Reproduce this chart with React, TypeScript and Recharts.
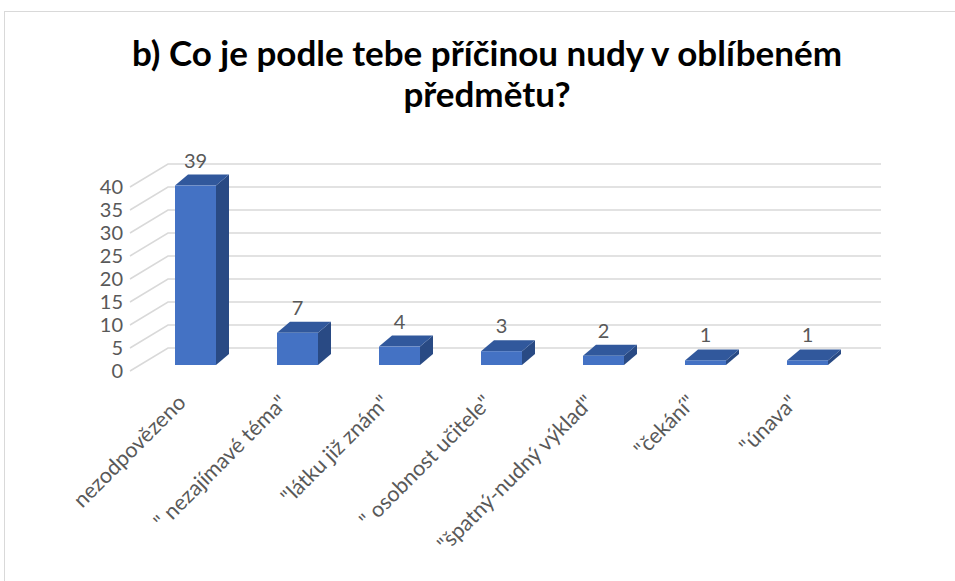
import React from "react";
import { BarChart, Bar, XAxis, YAxis, CartesianGrid, LabelList } from "recharts";

const categories = [
  "nezodpovězeno",
  "\" nezajímavé téma\"",
  "\"látku již znám\"",
  "\" osobnost učitele\"",
  "\"špatný-nudný výklad\"",
  "\"čekání\"",
  "\"únava\"",
];
const counts = [39, 7, 4, 3, 2, 1, 1];
const yTicks = [0, 5, 10, 15, 20, 25, 30, 35, 40];

const chartData = categories.map((name, i) => ({ name, value: counts[i] }));

const W = 955;
const H = 581;
const PLOT_LEFT = 144;
const PLOT_RIGHT = 858;
const PLOT_TOP = 181;
const PLOT_BOTTOM = 365;
const Y_AXIS_W = 40;
const X_AXIS_H = 30;

const FONT = "Lato, 'Open Sans', sans-serif";
const TEXT = "#595959";
const GRID = "#d9d9d9";

const FRONT = "#4472C4";
const TOP = "#31589C";
const SIDE = "#294A84";
const DX = 13;
const DY = 11;

const Box3D = (props: any) => {
  const { x, y, width, height } = props;
  if (width == null || height == null) return null;
  const r = x + width;
  const b = y + height;
  return (
    <g>
      <path
        d={`M${r},${y} L${r + DX},${y - DY} L${r + DX},${b - DY} L${r},${b} Z`}
        fill={SIDE}
      />
      <path
        d={`M${x},${y} L${x + DX},${y - DY} L${r + DX},${y - DY} L${r},${y} Z`}
        fill={TOP}
      />
      <rect x={x} y={y} width={width} height={height} fill={FRONT} />
    </g>
  );
};

const gridLine = (props: any) => {
  const { x1, x2, y1, key } = props;
  const y = y1;
  return (
    <path
      key={key}
      d={`M${x1 - 14},${y + 6} L${x1 + 24},${y - 17} L${x2 + 23},${y - 17}`}
      stroke={GRID}
      strokeWidth={1.5}
      fill="none"
    />
  );
};

const YTick = (props: any) => {
  const { y, payload } = props;
  return (
    <text
      x={PLOT_LEFT - 21}
      y={y + 6}
      dy="0.36em"
      textAnchor="end"
      fill={TEXT}
      fontSize={20}
      fontFamily={FONT}
    >
      {payload.value}
    </text>
  );
};

const XTick = (props: any) => {
  const { x, payload } = props;
  const ax = x - 8;
  const ay = PLOT_BOTTOM + 39;
  return (
    <text
      x={ax}
      y={ay}
      transform={`rotate(-45 ${ax} ${ay})`}
      textAnchor="end"
      fill={TEXT}
      fontSize={21.5}
      fontFamily={FONT}
    >
      {payload.value}
    </text>
  );
};

const ValueLabel = (props: any) => {
  const { x, y, width, value } = props;
  return (
    <text
      x={x + width / 2}
      y={y - 18}
      textAnchor="middle"
      fill={TEXT}
      fontSize={20}
      fontFamily={FONT}
    >
      {value}
    </text>
  );
};

export default function App() {
  return (
    <div
      style={{
        position: "absolute",
        left: 0,
        top: 0,
        width: W,
        height: H,
        overflow: "hidden",
        background: "#fff",
      }}
    >
      <div
        style={{
          position: "absolute",
          left: 4,
          top: 11,
          width: 1000,
          height: 700,
          border: "1.5px solid #d9d9d9",
        }}
      />
      <div
        style={{
          position: "absolute",
          left: 0,
          top: 32,
          width: 974,
          textAlign: "center",
          fontFamily: FONT,
          fontWeight: 700,
          fontSize: 35,
          lineHeight: "41px",
          color: "#000",
        }}
      >
        b) Co je podle tebe příčinou nudy v oblíbeném
        <br />
        předmětu?
      </div>
      <div style={{ position: "absolute", left: 0, top: 0 }}>
        <BarChart
          width={W}
          height={H}
          data={chartData}
          margin={{
            top: PLOT_TOP,
            right: W - PLOT_RIGHT,
            bottom: H - PLOT_BOTTOM - X_AXIS_H,
            left: PLOT_LEFT - Y_AXIS_W,
          }}
          barSize={41}
        >
          <CartesianGrid vertical={false} horizontal={gridLine} />
          <XAxis
            dataKey="name"
            height={X_AXIS_H}
            interval={0}
            tickLine={false}
            axisLine={false}
            tick={<XTick />}
          />
          <YAxis
            width={Y_AXIS_W}
            domain={[0, 40]}
            ticks={yTicks}
            tickLine={false}
            axisLine={false}
            tick={<YTick />}
          />
          <Bar dataKey="value" shape={<Box3D />} isAnimationActive={false}>
            <LabelList dataKey="value" content={<ValueLabel />} />
          </Bar>
        </BarChart>
      </div>
    </div>
  );
}
